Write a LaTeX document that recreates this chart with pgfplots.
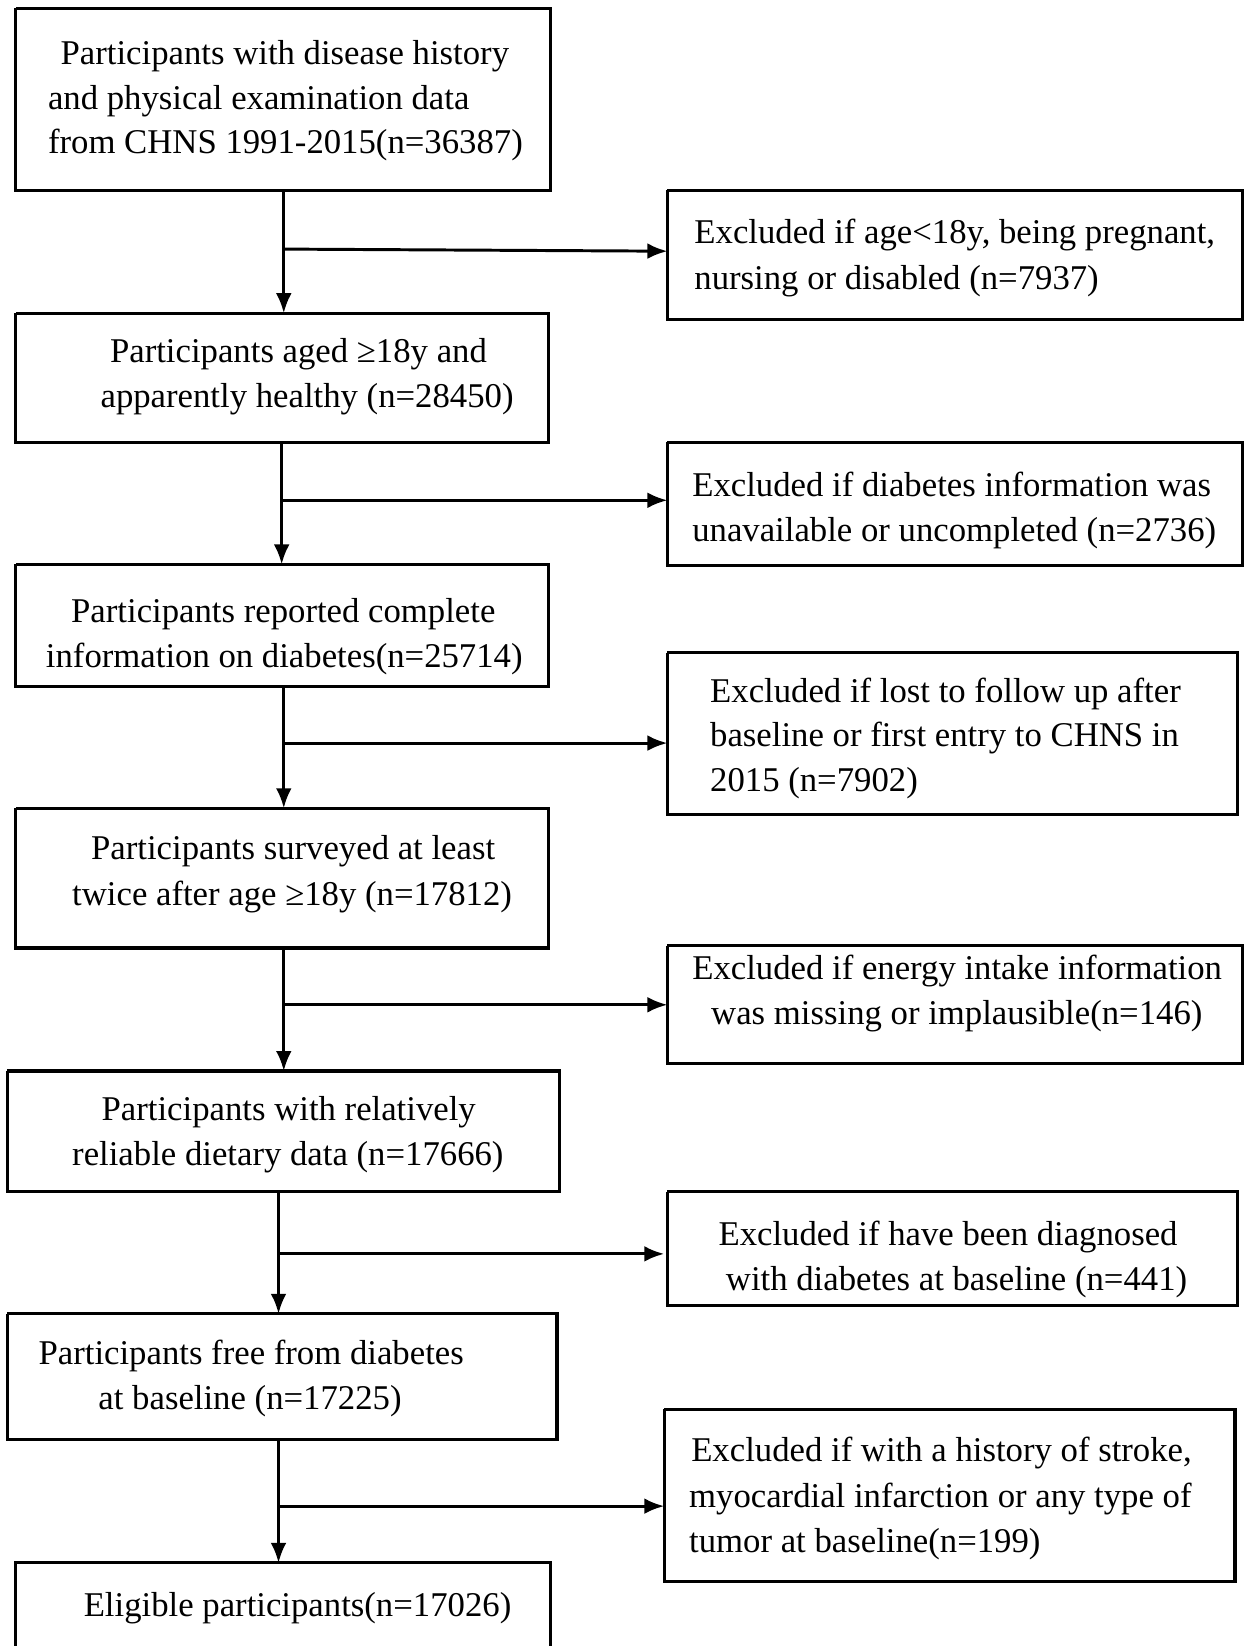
\documentclass[border=0pt]{standalone}
\usepackage{pgfplots}
\pgfplotsset{compat=1.18}
\usepackage{fontspec}
\setmainfont{Liberation Serif}
\usetikzlibrary{arrows.meta}
\newcommand\txt[3]{\node[anchor=base west,inner sep=0pt] at (axis cs:#1,#2) {#3};}
\begin{document}
\begin{tikzpicture}
\begin{axis}[
  scale only axis, width=118.3mm, height=156.8mm,
  xmin=0, xmax=1183, ymin=0, ymax=1568, y dir=reverse,
  hide axis, clip=false,
  bx/.style={black, solid, line width=0.85pt, mark=none, sharp plot, line join=miter},
  ar/.style={black, solid, line width=0.8pt, mark=none, sharp plot, -{Latex[length=1.9mm,width=1.5mm]}},
]
\path (axis cs:0,0) rectangle (axis cs:1183,1568);
% left boxes
\addplot[bx] coordinates {(15,8) (524,8) (524,181) (15,181) (15,8)};
\addplot[bx] coordinates {(15,298) (522,298) (522,421) (15,421) (15,298)};
\addplot[bx] coordinates {(15,537) (522,537) (522,653) (15,653) (15,537)};
\addplot[bx] coordinates {(15,769) (522,769) (522,902) (15,902) (15,769)};
\addplot[bx] coordinates {(7,1019) (532,1019) (532,1134) (7,1134) (7,1019)};
\addplot[bx] coordinates {(7,1250) (530,1250) (530,1370) (7,1370) (7,1250)};
\addplot[bx] coordinates {(15,1566) (15,1487) (524,1487) (524,1566)};
% right boxes
\addplot[bx] coordinates {(635,181) (1182,181) (1182,304) (635,304) (635,181)};
\addplot[bx] coordinates {(635,421) (1182,421) (1182,538) (635,538) (635,421)};
\addplot[bx] coordinates {(635,621) (1177,621) (1177,775) (635,775) (635,621)};
\addplot[bx] coordinates {(635,900) (1182,900) (1182,1012) (635,1012) (635,900)};
\addplot[bx] coordinates {(635,1134) (1177,1134) (1177,1242) (635,1242) (635,1134)};
\addplot[bx] coordinates {(632,1341) (1175,1341) (1175,1505) (632,1505) (632,1341)};
% vertical arrows
\addplot[ar] coordinates {(270,181) (270,298)};
\addplot[ar] coordinates {(268,421) (268,537)};
\addplot[ar] coordinates {(270,653) (270,769)};
\addplot[ar] coordinates {(270,902) (270,1019)};
\addplot[ar] coordinates {(265,1134) (265,1250)};
\addplot[ar] coordinates {(265,1370) (265,1487)};
% horizontal arrows
\addplot[ar] coordinates {(270,237) (635,239)};
\addplot[ar] coordinates {(268,476) (635,476)};
\addplot[ar] coordinates {(270,707) (635,707)};
\addplot[ar] coordinates {(270,956) (635,956)};
\addplot[ar] coordinates {(265,1193) (632,1193)};
\addplot[ar] coordinates {(265,1433) (632,1433)};
% texts
\fontsize{9.4}{12.2}\selectfont
\txt{57}{61}{Participants with disease history}
\txt{45}{104}{and physical examination data}
\txt{45}{146}{from CHNS 1991-2015(n=36387)}
\txt{660}{232}{Excluded if age<18y, being pregnant,}
\txt{660}{275}{nursing or disabled (n=7937)}
\txt{104}{345}{Participants aged ≥18y and}
\txt{95}{388}{apparently healthy (n=28450)}
\txt{658}{472}{Excluded if diabetes information was}
\txt{658}{515}{unavailable or uncompleted (n=2736)}
\txt{67}{592}{Participants reported complete}
\txt{43}{635}{information on diabetes(n=25714)}
\txt{675}{668}{Excluded if lost to follow up after}
\txt{675}{710}{baseline or first entry to CHNS in}
\txt{675}{753}{2015 (n=7902)}
\txt{86}{818}{Participants surveyed at least}
\txt{68}{862}{twice after age ≥18y (n=17812)}
\txt{658}{932}{Excluded if energy intake information}
\txt{676}{975}{was missing or implausible(n=146)}
\txt{96}{1066}{Participants with relatively}
\txt{68}{1109}{reliable dietary data (n=17666)}
\txt{683}{1185}{Excluded if have been diagnosed}
\txt{690}{1228}{with diabetes at baseline (n=441)}
\txt{36}{1298}{Participants free from diabetes}
\txt{93}{1341}{at baseline (n=17225)}
\txt{657}{1391}{Excluded if with a history of stroke,}
\txt{655}{1434}{myocardial infarction or any type of}
\txt{655}{1477}{tumor at baseline(n=199)}
\txt{79}{1538}{Eligible participants(n=17026)}
\end{axis}
\end{tikzpicture}
\end{document}
